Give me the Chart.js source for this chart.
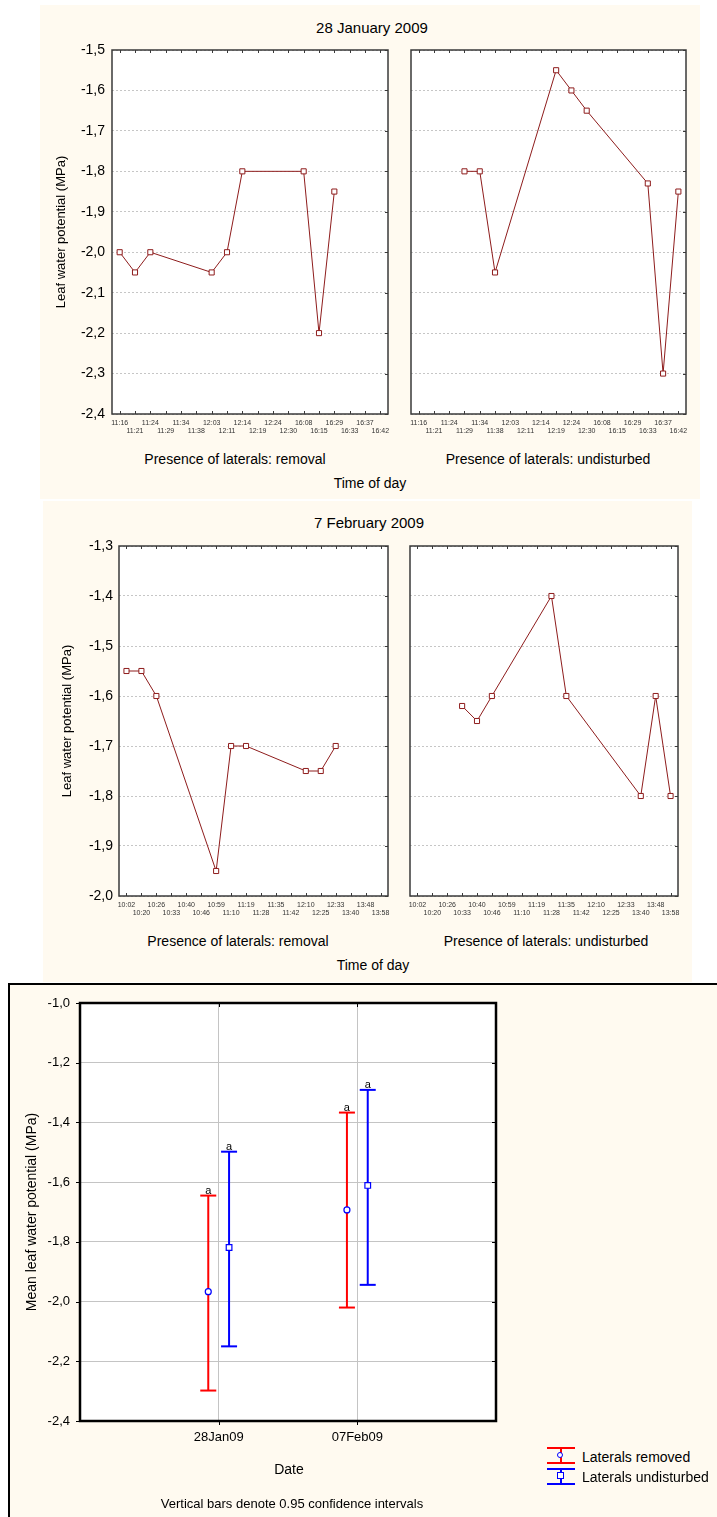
<!DOCTYPE html>
<html>
<head>
<meta charset="utf-8">
<script src="https://cdn.jsdelivr.net/npm/chart.js@4.4.0/dist/chart.umd.min.js"></script>
<style>
  body { margin: 0; width: 717px; height: 1517px; position: relative; overflow: hidden; background: #fff;
         font-family: "Liberation Sans", Arial, sans-serif; color: #000; }
  .panel { position: absolute; background: #fffaf0; }
  canvas { position: absolute; }
  .t { position: absolute; white-space: nowrap; transform: translate(-50%, -50%); font-size: 14px; line-height: 1; }
  .l { position: absolute; white-space: nowrap; transform: translateY(-50%); font-size: 14px; line-height: 1; }
  .sym { position: absolute; }
</style>
</head>
<body>
<div class="panel" style="left:40px;top:5px;width:660px;height:494px"></div>
<div class="panel" style="left:43px;top:501px;width:649px;height:481px"></div>
<div class="panel" style="left:8px;top:983px;width:760px;height:560px;border:2px solid #000;box-sizing:border-box"></div>

<div class="t" style="left:372px;top:27px;font-size:15px">28 January 2009</div>
<canvas id="janRem" width="360" height="406" style="left:40px;top:34px"></canvas>
<canvas id="janUnd" width="300" height="406" style="left:400px;top:34px"></canvas>
<div class="t" style="left:235px;top:459px">Presence of laterals: removal</div>
<div class="t" style="left:548px;top:459px">Presence of laterals: undisturbed</div>
<div class="t" style="left:370px;top:483px">Time of day</div>

<div class="t" style="left:369px;top:522px;font-size:15px">7 February 2009</div>
<canvas id="febRem" width="355" height="392" style="left:45px;top:530px"></canvas>
<canvas id="febUnd" width="292" height="392" style="left:400px;top:530px"></canvas>
<div class="t" style="left:238px;top:941px">Presence of laterals: removal</div>
<div class="t" style="left:546px;top:941px">Presence of laterals: undisturbed</div>
<div class="t" style="left:373px;top:965px">Time of day</div>

<canvas id="means" width="530" height="478" style="left:10px;top:984px"></canvas>
<div class="t" style="left:289px;top:1469px">Date</div>
<div class="t" style="left:292px;top:1503px;font-size:13px">Vertical bars denote 0.95 confidence intervals</div>

<!-- legend -->
<div class="sym" style="left:547px;top:1447px;width:28px;height:2px;background:#f00"></div>
<div class="sym" style="left:547px;top:1462px;width:28px;height:2px;background:#f00"></div>
<div class="sym" style="left:560px;top:1447px;width:2px;height:17px;background:#f00"></div>
<div class="sym" style="left:557px;top:1452px;width:6px;height:6px;border:1px solid #00f;border-radius:50%;background:#fff;box-sizing:border-box"></div>
<div class="l" style="left:582px;top:1457px">Laterals removed</div>
<div class="sym" style="left:547px;top:1468px;width:28px;height:2px;background:#00f"></div>
<div class="sym" style="left:547px;top:1483px;width:28px;height:2px;background:#00f"></div>
<div class="sym" style="left:560px;top:1468px;width:2px;height:17px;background:#00f"></div>
<div class="sym" style="left:557px;top:1472px;width:7px;height:7px;border:1px solid #00f;background:#fff;box-sizing:border-box"></div>
<div class="l" style="left:582px;top:1477px">Laterals undisturbed</div>

<script>
// data
const timesJan = ['11:16', '11:21', '11:24', '11:29', '11:34', '11:38', '12:03', '12:11', '12:14',
                  '12:19', '12:24', '12:30', '16:08', '16:15', '16:29', '16:33', '16:37', '16:42'];
const janRemoval = [-2.0, -2.05, -2.0, null, null, null, -2.05, -2.0, -1.8,
                    null, null, null, -1.8, -2.2, -1.85, null, null, null];
const janUndisturbed = [null, null, null, -1.8, -1.8, -2.05, null, null, null,
                        -1.55, -1.6, -1.65, null, null, null, -1.83, -2.3, -1.85];

const timesFeb = ['10:02', '10:20', '10:26', '10:33', '10:40', '10:46', '10:59', '11:10', '11:19',
                  '11:28', '11:35', '11:42', '12:10', '12:25', '12:33', '13:40', '13:48', '13:58'];
const febRemoval = [-1.55, -1.55, -1.6, null, null, null, -1.95, -1.7, -1.7,
                    null, null, null, -1.75, -1.75, -1.7, null, null, null];
const febUndisturbed = [null, null, null, -1.62, -1.65, -1.6, null, null, null,
                        -1.4, -1.6, null, null, null, null, -1.8, -1.6, -1.8];

const dates = ['28Jan09', '07Feb09'];
const removedMean = [-1.967, -1.693];
const removedLow = [-2.298, -2.02];
const removedHigh = [-1.645, -1.367];
const undistMean = [-1.819, -1.611];
const undistLow = [-2.15, -1.944];
const undistHigh = [-1.498, -1.291];
const removedLetters = ['a', 'a'];
const undistLetters = ['a', 'a'];

Chart.defaults.font.family = '"Liberation Sans", Arial, sans-serif';
Chart.defaults.color = '#000';
Chart.defaults.animation = false;

const lineRed = '#8e1c1c';
const comma = v => v.toFixed(1).replace('.', ',');

// white plot area + box + small tick marks
const frame = {
  id: 'frame',
  beforeDraw(chart) {
    const { ctx, chartArea: a } = chart;
    ctx.save();
    ctx.fillStyle = '#fff';
    ctx.fillRect(a.left, a.top, a.width, a.height);
    ctx.restore();
  },
  afterDraw(chart, args, o) {
    const { ctx, chartArea: a, scales: { x, y } } = chart;
    const t = o.tick;
    ctx.save();
    ctx.strokeStyle = o.color;
    ctx.lineWidth = 1;
    ctx.beginPath();
    x.ticks.forEach((tk, i) => {
      const px = Math.round(x.getPixelForTick(i)) + 0.5;
      if (px < a.left + 2 || px > a.right - 2) return;
      ctx.moveTo(px, a.top); ctx.lineTo(px, a.top + t);
      ctx.moveTo(px, a.bottom); ctx.lineTo(px, o.outward ? a.bottom + t : a.bottom - t);
    });
    y.ticks.forEach((tk, i) => {
      const py = Math.round(y.getPixelForTick(i)) + 0.5;
      ctx.moveTo(a.right, py); ctx.lineTo(a.right - t, py);
      if (o.outward) { ctx.moveTo(a.left, py); ctx.lineTo(a.left - t, py); }
    });
    ctx.stroke();
    ctx.lineWidth = o.width;
    ctx.strokeRect(a.left, a.top, a.width, a.height);
    ctx.restore();
  }
};

function timeChart(id, labels, values, yMin, yMax, box) {
  new Chart(document.getElementById(id), {
    type: 'line',
    data: {
      labels: labels,
      datasets: [{
        data: values,
        borderColor: lineRed,
        borderWidth: 1,
        pointStyle: 'rect',
        pointRadius: 3.6,
        pointBackgroundColor: '#fff',
        pointBorderColor: lineRed,
        pointBorderWidth: 1,
        spanGaps: true,
        tension: 0
      }]
    },
    options: {
      responsive: false,
      layout: { padding: { top: 16, right: box.right, left: 0, bottom: 0 } },
      plugins: {
        legend: { display: false },
        tooltip: { enabled: false },
        frame: { tick: 3, color: '#3a3a3a', width: 1.5, outward: false }
      },
      scales: {
        x: {
          offset: true,
          grid: { display: false, drawTicks: false },
          border: { display: false },
          ticks: {
            autoSkip: false, maxRotation: 0, padding: 5, color: '#333',
            font: { size: 7, lineHeight: 1.19 },
            callback: function (v, i) {
              const l = this.getLabelForValue(v);
              return i % 2 ? ['', l] : l;
            }
          },
          afterFit: s => { s.height = 26; }
        },
        y: {
          min: yMin, max: yMax,
          grid: { color: '#c6c6c6', drawTicks: false },
          border: { display: false, dash: [2, 2] },
          ticks: { display: box.showY, stepSize: 0.1, padding: box.tickPad, font: { size: 14 }, callback: comma },
          title: {
            display: box.showY, text: 'Leaf water potential (MPa)', font: { size: 13 },
            padding: { top: box.titlePad, bottom: 0 }
          },
          afterFit: s => { s.width = box.yWidth; }
        }
      }
    },
    plugins: [frame]
  });
}

timeChart('janRem', timesJan, janRemoval, -2.4, -1.5, { right: 12, showY: true, yWidth: 72, tickPad: 7, titlePad: 14 });
timeChart('janUnd', timesJan, janUndisturbed, -2.4, -1.5, { right: 14, showY: false, yWidth: 11, tickPad: 0, titlePad: 0 });
timeChart('febRem', timesFeb, febRemoval, -2.0, -1.3, { right: 12, showY: true, yWidth: 74, tickPad: 6, titlePad: 15 });
timeChart('febUnd', timesFeb, febUndisturbed, -2.0, -1.3, { right: 14, showY: false, yWidth: 10, tickPad: 0, titlePad: 0 });

// letters above the upper end of each interval
const letters = {
  id: 'letters',
  afterDatasetsDraw(chart) {
    const { ctx, scales: { x, y } } = chart;
    ctx.save();
    ctx.font = '11px "Liberation Sans", Arial, sans-serif';
    ctx.fillStyle = '#000';
    ctx.textAlign = 'center';
    ctx.textBaseline = 'alphabetic';
    chart.data.datasets.forEach(ds => {
      if (!ds.letter) return;
      const p = ds.data[1];
      ctx.fillText(ds.letter, x.getPixelForValue(p.x), y.getPixelForValue(p.y) - 2);
    });
    ctx.restore();
  }
};

const shift = 0.075;
const meanSets = [], barSets = [];
dates.forEach((d, i) => {
  const xr = i + 1 - shift, xu = i + 1 + shift;
  barSets.push({
    data: [{ x: xr, y: removedLow[i] }, { x: xr, y: removedHigh[i] }],
    letter: removedLetters[i], showLine: true, borderColor: '#f00', borderWidth: 2,
    pointStyle: 'line', pointRadius: 8, pointBorderColor: '#f00', pointBorderWidth: 2
  });
  barSets.push({
    data: [{ x: xu, y: undistLow[i] }, { x: xu, y: undistHigh[i] }],
    letter: undistLetters[i], showLine: true, borderColor: '#00f', borderWidth: 2,
    pointStyle: 'line', pointRadius: 8, pointBorderColor: '#00f', pointBorderWidth: 2
  });
});
meanSets.push({
  data: dates.map((d, i) => ({ x: i + 1 - shift, y: removedMean[i] })),
  pointStyle: 'circle', pointRadius: 3, pointBorderColor: '#00f', pointBackgroundColor: '#fff', pointBorderWidth: 1.2
});
meanSets.push({
  data: dates.map((d, i) => ({ x: i + 1 + shift, y: undistMean[i] })),
  pointStyle: 'rect', pointRadius: 4, pointBorderColor: '#00f', pointBackgroundColor: '#fff', pointBorderWidth: 1.2
});

new Chart(document.getElementById('means'), {
  type: 'scatter',
  data: { datasets: meanSets.concat(barSets) },
  options: {
    responsive: false,
    layout: { padding: { top: 19, right: 44, left: 0, bottom: 0 } },
    plugins: {
      legend: { display: false },
      tooltip: { enabled: false },
      frame: { tick: 4, color: '#000', width: 2.5, outward: true }
    },
    scales: {
      x: {
        type: 'linear', min: 0, max: dates.length + 1,
        grid: { color: '#c4c4c4', drawTicks: false },
        border: { display: false },
        ticks: {
          stepSize: 1, padding: 9, font: { size: 13 },
          callback: v => dates[v - 1] || ''
        },
        afterFit: s => { s.height = 41; }
      },
      y: {
        min: -2.4, max: -1.0,
        grid: { color: '#c4c4c4', drawTicks: false },
        border: { display: false },
        ticks: { stepSize: 0.2, padding: 10, font: { size: 13 }, callback: comma },
        title: {
          display: true, text: 'Mean leaf water potential (MPa)', font: { size: 14 },
          padding: { top: 14, bottom: 0 }
        },
        afterFit: s => { s.width = 70; }
      }
    }
  },
  plugins: [frame, letters]
});
</script>
</body>
</html>
